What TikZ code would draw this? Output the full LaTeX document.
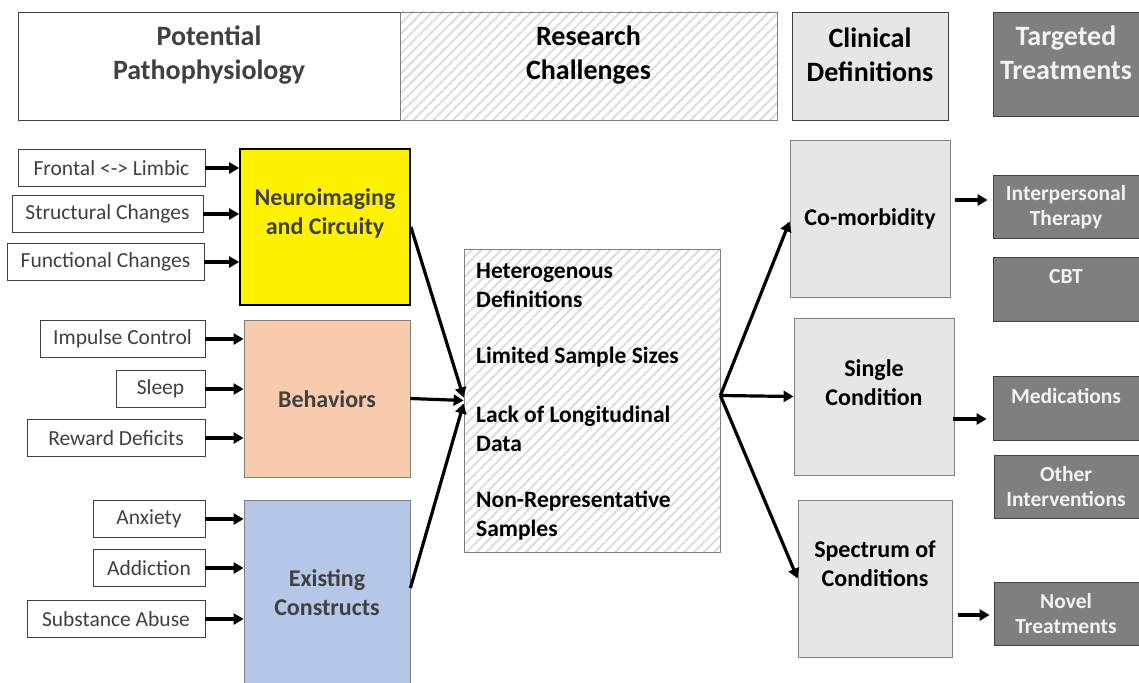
\documentclass[tikz,border=0pt]{standalone}
\usepackage{fontspec}
\setmainfont{Carlito}
\usetikzlibrary{arrows.meta,patterns.meta}

\definecolor{darktext}{HTML}{404040}
\definecolor{edgegray}{HTML}{7F7F7F}
\definecolor{lightfill}{HTML}{E6E6E6}
\definecolor{darkfill}{HTML}{7F7F7F}
\definecolor{peach}{HTML}{F8CBAD}
\definecolor{paleblue}{HTML}{B4C7E7}
\definecolor{treattext}{HTML}{F2F2F2}

\begin{document}
\begin{tikzpicture}[x=1pt, y=-1pt,
    box/.style={draw=darktext, line width=0.8pt, inner sep=0pt},
    hatched/.style={pattern={Lines[angle=45,distance=7pt,line width=1.8pt]}, pattern color=black!14},
    header/.style={align=center, font=\fontsize{28}{34}\selectfont\bfseries},
    small/.style={box, fill=white, minimum height=37pt, font=\fontsize{21.5}{24}\selectfont, text=darktext},
    group/.style={box, minimum width=166pt, minimum height=157pt},
    grouptext/.style={align=center, text=darktext, font=\fontsize{24}{29}\selectfont\bfseries},
    clinic/.style={box, draw=edgegray, fill=lightfill, minimum height=157pt},
    clinictext/.style={align=center, font=\fontsize{24}{29}\selectfont\bfseries},
    treat/.style={box, draw=darktext, fill=darkfill, minimum width=148pt, minimum height=63pt},
    treattxt/.style={align=center, text=treattext, font=\fontsize{21.5}{25}\selectfont\bfseries},
    item/.style={anchor=west, align=left, inner sep=0pt, font=\fontsize{23.5}{29}\selectfont\bfseries},
    arr/.style={-{Triangle[length=10pt,width=11pt]}, line width=3.2pt}
]
\useasboundingbox (0,0) rectangle (1139,682);

% column headers
\node[box, minimum width=382pt, minimum height=108pt] (hpath) at (209,66) {};
\node[box, hatched, draw=edgegray, minimum width=377pt, minimum height=108pt] (hres) at (588.5,66) {};
\node[box, fill=lightfill, minimum width=156pt, minimum height=108pt] (hclin) at (870,66) {};
\node[box, fill=darkfill, minimum width=148pt, minimum height=104pt] (htreat) at (1067,64) {};

\node[header, text=darktext] (tpath) at (209,55) {Potential\\Pathophysiology};
\node[header] (tres) at (588.5,55) {Research\\Challenges};
\node[header] (tclin) at (870,55) {Clinical\\Definitions};
\node[header, text=treattext] (ttreat) at (1066,53) {Targeted\\Treatments};

% neuroimaging
\node[group, draw=black, line width=1.8pt, fill=yellow, minimum width=170pt, minimum height=156pt] (neuro) at (325,227) {};
\node[grouptext] (tneuro) at (325,213) {Neuroimaging\\and Circuity};
\node[small, minimum width=187pt] (fl) at (111.5,168) {Frontal <-> Limbic};
\node[small, minimum width=191pt] (sc) at (107.5,214) {Structural Changes};
\node[small, minimum width=197pt] (fc) at (105.5,262) {Functional Changes};

% behaviors
\node[group, draw=edgegray, fill=peach] (beh) at (327,398.5) {};
\node[grouptext] (tbeh) at (327,399) {Behaviors};
\node[small, minimum width=165pt] (ic) at (122.5,339) {Impulse Control};
\node[small, minimum width=89pt] (sl) at (160.5,389) {Sleep};
\node[small, minimum width=178pt] (rd) at (116,438) {Reward Deficits};

% existing constructs
\node[group, draw=edgegray, fill=paleblue, minimum height=190pt] (exc) at (327,595) {};
\node[grouptext] (texc) at (327,593) {Existing\\Constructs};
\node[small, minimum width=112pt] (ax) at (149,519) {Anxiety};
\node[small, minimum width=112pt] (ad) at (149,568) {Addiction};
\node[small, minimum width=178pt] (sa) at (116,619) {Substance Abuse};

\foreach \s/\t in {fl/neuro, sc/neuro, fc/neuro, ic/beh, sl/beh, rd/beh, ax/exc, ad/exc, sa/exc}
  \draw[arr] (\s.east) -- (\s.east -| \t.west);

% research challenges
\node[box, hatched, draw=edgegray, minimum width=256pt, minimum height=303pt] (ch) at (592,400.5) {};
\node[item] (c1) at (476,285) {Heterogenous\\Definitions};
\node[item] (c2) at (476,357) {Limited Sample Sizes};
\node[item] (c3) at (476,429) {Lack of Longitudinal\\Data};
\node[item] (c4) at (476,516) {Non-Representative\\Samples};

\draw[arr] (neuro.east) -- ([yshift=3pt]ch.west);
\draw[arr] (beh.east) -- (ch.west);
\draw[arr] ([yshift=7pt]exc.east) -- ([yshift=-3pt]ch.west);

% clinical definitions
\node[clinic, minimum width=160pt] (como) at (870,218.5) {};
\node[clinictext] (tcomo) at (870,219) {Co-morbidity};
\node[clinic, minimum width=160pt] (sing) at (874,396.5) {};
\node[clinictext] (tsing) at (874,383) {Single\\Condition};
\node[clinic, minimum width=154pt] (spec) at (875,578.5) {};
\node[clinictext] (tspec) at (875,564) {Spectrum of\\Conditions};

\draw[arr] ([yshift=5pt]ch.east) -- ([yshift=-3pt]como.west);
\draw[arr] ([yshift=5pt]ch.east) -- (sing.west);
\draw[arr] ([yshift=5pt]ch.east) -- (spec.west);

% targeted treatments
\node[treat] (ipt) at (1067,206.5) {};
\node[treattxt] (tipt) at (1066,207.5) {Interpersonal\\Therapy};
\node[treat, minimum height=64pt] (cbt) at (1067,289) {};
\node[treattxt] (tcbt) at (1066,277) {CBT};
\node[treat, minimum height=64pt] (med) at (1067,408) {};
\node[treattxt] (tmed) at (1066,396) {Medications};
\node[treat, minimum width=146pt] (oth) at (1067,486.5) {};
\node[treattxt] (toth) at (1066,486.5) {Other\\Interventions};
\node[treat, minimum width=146pt] (nov) at (1067,613.5) {};
\node[treattxt] (tnov) at (1066,614) {Novel\\Treatments};

\draw[arr] ([xshift=5pt,yshift=6.5pt]ipt.west -| como.east) -- ([xshift=-5pt,yshift=6.5pt]ipt.west);
\draw[arr] ([xshift=-1pt,yshift=-11pt]med.west -| sing.east) -- ([xshift=-6pt,yshift=-11pt]med.west);
\draw[arr] ([xshift=6pt,yshift=-1.5pt]nov.west -| spec.east) -- ([xshift=-4pt,yshift=-1.5pt]nov.west);

\end{tikzpicture}
\end{document}
